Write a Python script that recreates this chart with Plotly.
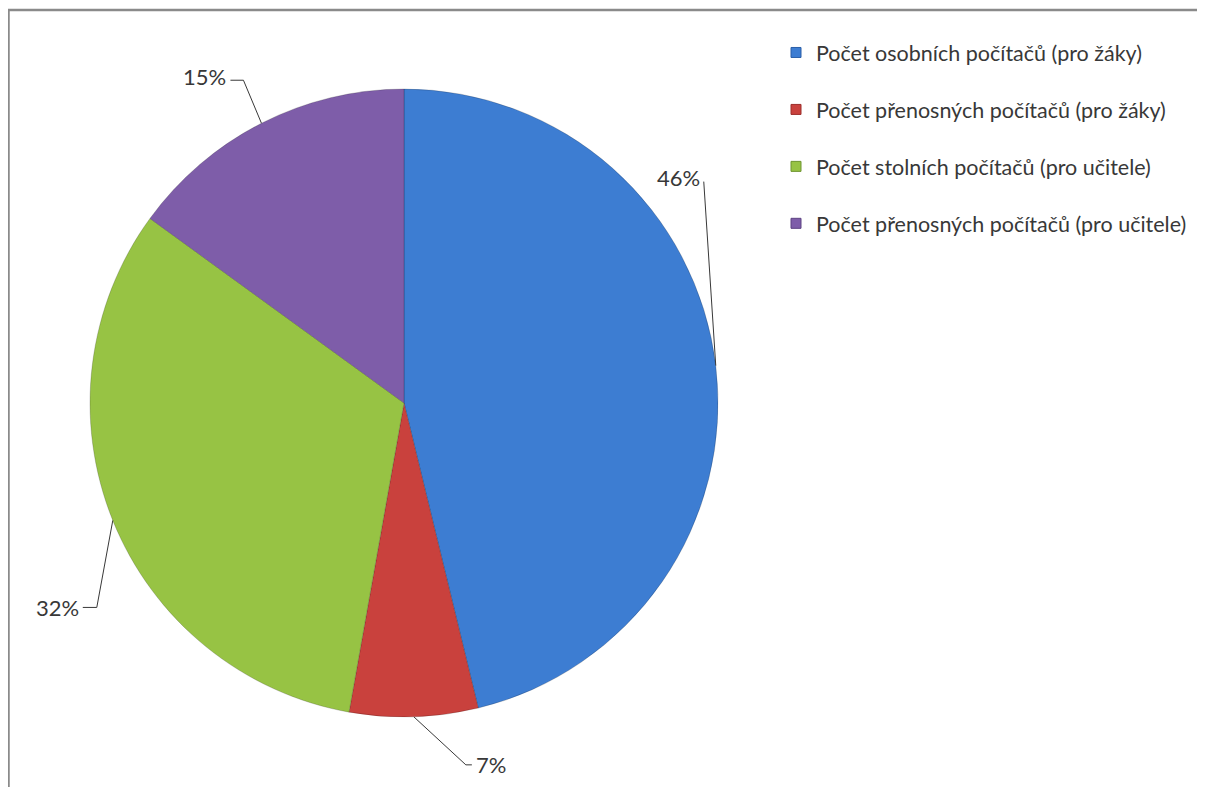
import math
import plotly.graph_objects as go

# browser page has an 8px body margin; figure is sized to fit the window
PAGE_OFF = 8
W, H = 1205 - PAGE_OFF, 787 - PAGE_OFF

categories = [
    "Počet osobních počítačů (pro žáky)",
    "Počet přenosných počítačů (pro žáky)",
    "Počet stolních počítačů (pro učitele)",
    "Počet přenosných počítačů (pro učitele)",
]
values = [46.2, 6.6, 32.2, 15.0]

# styles
colors = ["#3d7dd2", "#c9413d", "#97c344", "#7e5da9"]
edge_colors = ["#2a5fa8", "#9c2e2b", "#6f9530", "#5c4282"]
FONT = "Lato"
TEXT_COLOR = "#383838"

# pie geometry in page pixels
cx, cy, R = 404, 403, 314
# leader layout per slice: elbow offset from rim anchor (dx, dy), tail length, label side, label y shift
leaders = [
    (-12, -184, 0, "right", -4),
    (52, 48, 6, "left", 0),
    (-16, 87, -14, "right", 0),
    (-18, -43, -13, "right", -4),
]


def px(x):
    return (x - PAGE_OFF) / W


def py(y):
    return 1 - (y - PAGE_OFF) / H


fig = go.Figure()
fig.add_trace(go.Pie(
    labels=categories,
    values=values,
    sort=False,
    direction="clockwise",
    rotation=0,
    textinfo="none",
    hoverinfo="label+percent",
    marker=dict(colors=colors, line=dict(color="rgba(0,0,0,0.18)", width=1)),
    domain=dict(x=[px(cx - R), px(cx + R)], y=[py(cy + R), py(cy - R)]),
    showlegend=False,
))

for i, cat in enumerate(categories):
    fig.add_trace(go.Scatter(
        x=[None], y=[None], mode="markers", name=cat, legendgroup=str(i),
        marker=dict(symbol="square", size=10, color=colors[i],
                    line=dict(color=edge_colors[i], width=1)),
    ))

total = sum(values)
shapes = []
annotations = []
cum = 0.0
for v, (dx, dy, tail, side, ysh) in zip(values, leaders):
    theta = 2 * math.pi * (cum + v / 2) / total
    cum += v
    ax_ = cx + R * math.sin(theta)
    ay_ = cy - R * math.cos(theta)
    ex, ey = ax_ + dx, ay_ + dy
    tx, ty = ex + tail, ey
    shapes.append(dict(
        type="path", xref="paper", yref="paper",
        path=f"M {px(ax_)} {py(ay_)} L {px(ex)} {py(ey)} L {px(tx)} {py(ty)}",
        line=dict(color=TEXT_COLOR, width=1),
    ))
    lx = tx + (2 if side == "left" else -2)
    annotations.append(dict(
        xref="paper", yref="paper", x=px(lx), y=py(ty + ysh),
        xanchor=side, yanchor="middle", showarrow=False,
        text=f"{round(v / total * 100)}%",
        font=dict(family=FONT, size=22, color=TEXT_COLOR),
    ))

# chart frame (left and top edges visible)
shapes.append(dict(
    type="path", xref="paper", yref="paper",
    path=f"M {px(8.5)} {py(800)} L {px(8.5)} {py(10)} L {px(1220)} {py(10)}",
    line=dict(color="#8a8a8a", width=2.5),
))

fig.update_layout(
    width=W, height=H,
    margin=dict(l=0, r=0, t=0, b=0),
    paper_bgcolor="white", plot_bgcolor="white",
    xaxis=dict(visible=False), yaxis=dict(visible=False),
    shapes=shapes,
    annotations=annotations,
    showlegend=True,
    legend=dict(
        x=px(776), y=py(32), xanchor="left", yanchor="top",
        font=dict(family=FONT, size=21.5, color=TEXT_COLOR),
        tracegroupgap=26, bgcolor="rgba(0,0,0,0)",
    ),
)

fig.write_html("out.html")
